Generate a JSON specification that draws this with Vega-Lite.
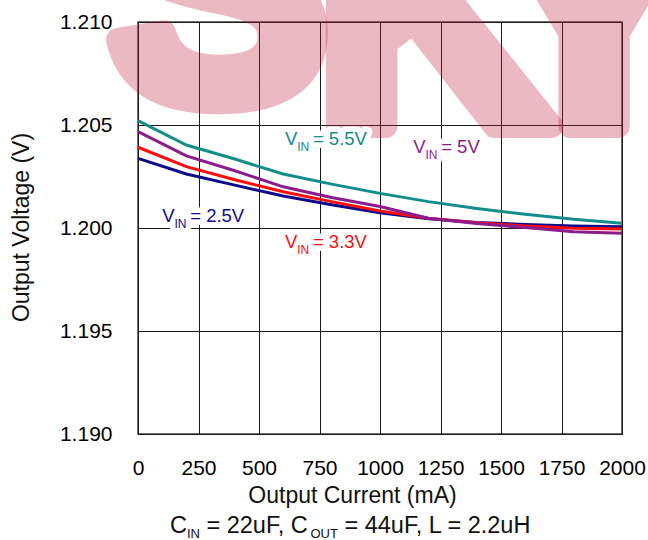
{
  "$schema": "https://vega.github.io/schema/vega-lite/v6.json",
  "width": 484,
  "height": 412,
  "autosize": {"type": "none"},
  "padding": {"left": 138, "top": 22, "right": 26, "bottom": 106},
  "background": "white",
  "config": {
    "font": "Liberation Sans",
    "view": {"stroke": "#444", "strokeWidth": 1.5},
    "axis": {
      "labelFont": "Liberation Sans",
      "titleFont": "Liberation Sans",
      "labelColor": "#000",
      "titleColor": "#111",
      "gridColor": "#1a1a1a",
      "gridWidth": 1,
      "gridOpacity": 1,
      "domain": false,
      "ticks": false,
      "tickSize": 0,
      "labelFontSize": 21,
      "titleFontSize": 23,
      "titleFontWeight": "normal",
      "labelOverlap": false,
      "labelFlush": false
    }
  },
  "datasets": {
    "curves": [
      {"vin": "2.5V", "current": 0, "voltage": 1.20338},
      {"vin": "2.5V", "current": 200, "voltage": 1.20262},
      {"vin": "2.5V", "current": 400, "voltage": 1.20208},
      {"vin": "2.5V", "current": 600, "voltage": 1.20155},
      {"vin": "2.5V", "current": 800, "voltage": 1.20113},
      {"vin": "2.5V", "current": 1000, "voltage": 1.20074},
      {"vin": "2.5V", "current": 1200, "voltage": 1.20045},
      {"vin": "2.5V", "current": 1400, "voltage": 1.20027},
      {"vin": "2.5V", "current": 1600, "voltage": 1.20017},
      {"vin": "2.5V", "current": 1800, "voltage": 1.2001},
      {"vin": "2.5V", "current": 2000, "voltage": 1.20006},
      {"vin": "3.3V", "current": 0, "voltage": 1.20392},
      {"vin": "3.3V", "current": 200, "voltage": 1.20298},
      {"vin": "3.3V", "current": 400, "voltage": 1.20234},
      {"vin": "3.3V", "current": 600, "voltage": 1.20176},
      {"vin": "3.3V", "current": 800, "voltage": 1.20128},
      {"vin": "3.3V", "current": 1000, "voltage": 1.20083},
      {"vin": "3.3V", "current": 1200, "voltage": 1.20047},
      {"vin": "3.3V", "current": 1400, "voltage": 1.20025},
      {"vin": "3.3V", "current": 1600, "voltage": 1.2001},
      {"vin": "3.3V", "current": 1800, "voltage": 1.19999},
      {"vin": "3.3V", "current": 2000, "voltage": 1.19995},
      {"vin": "5V", "current": 0, "voltage": 1.20468},
      {"vin": "5V", "current": 200, "voltage": 1.2035},
      {"vin": "5V", "current": 400, "voltage": 1.20278},
      {"vin": "5V", "current": 600, "voltage": 1.202},
      {"vin": "5V", "current": 800, "voltage": 1.20148},
      {"vin": "5V", "current": 1000, "voltage": 1.20104},
      {"vin": "5V", "current": 1200, "voltage": 1.20047},
      {"vin": "5V", "current": 1400, "voltage": 1.20022},
      {"vin": "5V", "current": 1600, "voltage": 1.20002},
      {"vin": "5V", "current": 1800, "voltage": 1.19982},
      {"vin": "5V", "current": 2000, "voltage": 1.19974},
      {"vin": "5.5V", "current": 0, "voltage": 1.20521},
      {"vin": "5.5V", "current": 200, "voltage": 1.20403},
      {"vin": "5.5V", "current": 400, "voltage": 1.20335},
      {"vin": "5.5V", "current": 600, "voltage": 1.20262},
      {"vin": "5.5V", "current": 800, "voltage": 1.20213},
      {"vin": "5.5V", "current": 1000, "voltage": 1.20168},
      {"vin": "5.5V", "current": 1200, "voltage": 1.20128},
      {"vin": "5.5V", "current": 1400, "voltage": 1.20095},
      {"vin": "5.5V", "current": 1600, "voltage": 1.20067},
      {"vin": "5.5V", "current": 1800, "voltage": 1.20042},
      {"vin": "5.5V", "current": 2000, "voltage": 1.20023}
    ],
    "labels": [
      {"vin": "5.5V", "current": 607, "voltage": 1.20403, "rest": "= 5.5V"},
      {"vin": "5V", "current": 1137, "voltage": 1.20363, "rest": "= 5V"},
      {"vin": "2.5V", "current": 100, "voltage": 1.20031, "rest": "= 2.5V"},
      {"vin": "3.3V", "current": 607, "voltage": 1.19902, "rest": "= 3.3V"}
    ],
    "marks": [
      {"current": 333, "voltage": 1.20626, "text": "S"},
      {"current": 1227, "voltage": 1.20495, "text": "K"},
      {"current": 1884, "voltage": 1.20495, "text": "Y"}
    ],
    "caption": [
      {"current": 132, "voltage": 1.185196}
    ]
  },
  "layer": [
    {
      "data": {"name": "marks"},
      "mark": {"type": "text", "font": "Liberation Sans", "fontWeight": "bold", "fontSize": 330, "align": "center", "baseline": "alphabetic", "color": "#bb1c37", "stroke": "#bb1c37", "strokeWidth": 24, "strokeJoin": "round", "opacity": 0.3},
      "encoding": {
        "x": {"field": "current", "type": "quantitative", "scale": {"domain": [0, 2000], "nice": false, "zero": false},
          "axis": {
            "values": [0, 250, 500, 750, 1000, 1250, 1500, 1750, 2000],
            "format": "d",
            "title": "Output Current (mA)",
            "labelBaseline": "alphabetic",
            "labelPadding": 40,
            "titleX": 214,
            "titleY": 68,
            "titleBaseline": "alphabetic",
            "titleAlign": "center",
            "titleAnchor": null
          }},
        "y": {"field": "voltage", "type": "quantitative", "scale": {"domain": [1.19, 1.21], "nice": false, "zero": false},
          "axis": {
            "values": [1.19, 1.195, 1.2, 1.205, 1.21],
            "format": ".3f",
            "title": "Output Voltage (V)",
            "labelPadding": 26,
            "titleX": -109.5,
            "titleY": 205,
            "titleAngle": -90,
            "titleBaseline": "alphabetic",
            "titleAlign": "center",
            "titleAnchor": null
          }},
        "text": {"field": "text"}
      }
    },
    {
      "data": {"name": "labels"},
      "mark": {"type": "text", "text": "V", "fontSize": 18.5, "align": "left", "baseline": "alphabetic", "color": "white", "stroke": "white", "strokeWidth": 11, "strokeJoin": "round"},
      "encoding": {"x": {"field": "current", "type": "quantitative"}, "y": {"field": "voltage", "type": "quantitative"}}
    },
    {
      "data": {"name": "labels"},
      "mark": {"type": "text", "text": "IN", "fontSize": 12, "dx": 12.3, "dy": 6, "align": "left", "baseline": "alphabetic", "color": "white", "stroke": "white", "strokeWidth": 11, "strokeJoin": "round"},
      "encoding": {"x": {"field": "current", "type": "quantitative"}, "y": {"field": "voltage", "type": "quantitative"}}
    },
    {
      "data": {"name": "labels"},
      "mark": {"type": "text", "fontSize": 18.5, "dx": 28, "align": "left", "baseline": "alphabetic", "color": "white", "stroke": "white", "strokeWidth": 11, "strokeJoin": "round"},
      "encoding": {"x": {"field": "current", "type": "quantitative"}, "y": {"field": "voltage", "type": "quantitative"}, "text": {"field": "rest"}}
    },
    {
      "data": {"name": "curves"},
      "mark": {"type": "line", "strokeWidth": 3},
      "encoding": {
        "x": {"field": "current", "type": "quantitative"},
        "y": {"field": "voltage", "type": "quantitative"},
        "color": {
          "field": "vin",
          "type": "nominal",
          "scale": {"domain": ["2.5V", "3.3V", "5V", "5.5V"], "range": ["#0c0c8a", "#ff0d0d", "#8b1c8b", "#138d8b"]},
          "legend": null
        }
      }
    },
    {
      "data": {"name": "labels"},
      "mark": {"type": "text", "text": "V", "fontSize": 18.5, "align": "left", "baseline": "alphabetic"},
      "encoding": {"x": {"field": "current", "type": "quantitative"}, "y": {"field": "voltage", "type": "quantitative"}, "color": {"field": "vin", "type": "nominal", "legend": null}}
    },
    {
      "data": {"name": "labels"},
      "mark": {"type": "text", "text": "IN", "fontSize": 12, "dx": 12.3, "dy": 6, "align": "left", "baseline": "alphabetic"},
      "encoding": {"x": {"field": "current", "type": "quantitative"}, "y": {"field": "voltage", "type": "quantitative"}, "color": {"field": "vin", "type": "nominal", "legend": null}}
    },
    {
      "data": {"name": "labels"},
      "mark": {"type": "text", "fontSize": 18.5, "dx": 28, "align": "left", "baseline": "alphabetic"},
      "encoding": {"x": {"field": "current", "type": "quantitative"}, "y": {"field": "voltage", "type": "quantitative"}, "text": {"field": "rest"}, "color": {"field": "vin", "type": "nominal", "legend": null}}
    },
    {
      "data": {"name": "caption"},
      "mark": {"type": "text", "text": "C", "fontSize": 23.5, "align": "left", "baseline": "alphabetic", "color": "#111"},
      "encoding": {"x": {"field": "current", "type": "quantitative"}, "y": {"field": "voltage", "type": "quantitative"}}
    },
    {
      "data": {"name": "caption"},
      "mark": {"type": "text", "text": "IN", "fontSize": 13, "dx": 17, "dy": 5, "align": "left", "baseline": "alphabetic", "color": "#111"},
      "encoding": {"x": {"field": "current", "type": "quantitative"}, "y": {"field": "voltage", "type": "quantitative"}}
    },
    {
      "data": {"name": "caption"},
      "mark": {"type": "text", "text": "= 22uF, C", "fontSize": 23.5, "dx": 36.5, "align": "left", "baseline": "alphabetic", "color": "#111"},
      "encoding": {"x": {"field": "current", "type": "quantitative"}, "y": {"field": "voltage", "type": "quantitative"}}
    },
    {
      "data": {"name": "caption"},
      "mark": {"type": "text", "text": "OUT", "fontSize": 13, "dx": 140.5, "dy": 5, "align": "left", "baseline": "alphabetic", "color": "#111"},
      "encoding": {"x": {"field": "current", "type": "quantitative"}, "y": {"field": "voltage", "type": "quantitative"}}
    },
    {
      "data": {"name": "caption"},
      "mark": {"type": "text", "text": "= 44uF, L = 2.2uH", "fontSize": 23.5, "dx": 174.5, "align": "left", "baseline": "alphabetic", "color": "#111"},
      "encoding": {"x": {"field": "current", "type": "quantitative"}, "y": {"field": "voltage", "type": "quantitative"}}
    }
  ]
}
